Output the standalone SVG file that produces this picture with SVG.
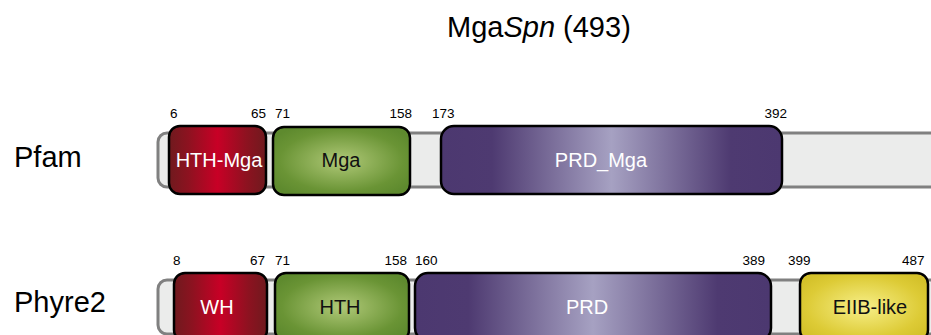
<svg xmlns="http://www.w3.org/2000/svg" width="931" height="335" viewBox="0 0 931 335">
  <defs>
    <linearGradient id="gRed" x1="0" y1="0" x2="1" y2="0">
      <stop offset="0" stop-color="#6f1a1e"/>
      <stop offset="0.2" stop-color="#8d1220"/>
      <stop offset="0.5" stop-color="#c80026"/>
      <stop offset="0.8" stop-color="#8d1220"/>
      <stop offset="1" stop-color="#6f1a1e"/>
    </linearGradient>
    <radialGradient id="gGreen" cx="0.5" cy="0.5" r="0.6">
      <stop offset="0" stop-color="#b0c978"/>
      <stop offset="0.75" stop-color="#6a9435"/>
      <stop offset="1" stop-color="#5e8a2e"/>
    </radialGradient>
    <linearGradient id="gPurple" x1="0" y1="0" x2="1" y2="0">
      <stop offset="0" stop-color="#4c3870"/>
      <stop offset="0.15" stop-color="#4e3a71"/>
      <stop offset="0.5" stop-color="#a6a1c2"/>
      <stop offset="0.85" stop-color="#4e3a71"/>
      <stop offset="1" stop-color="#4c3870"/>
    </linearGradient>
    <radialGradient id="gYellow" cx="0.5" cy="0.5" r="0.6">
      <stop offset="0" stop-color="#f7ef88"/>
      <stop offset="0.75" stop-color="#ddcb36"/>
      <stop offset="1" stop-color="#d4c12a"/>
    </radialGradient>
  </defs>
  <style>
    text { font-family: "Liberation Sans", Arial, sans-serif; }
    .backbone { fill: #ebeceb; stroke: #808080; stroke-width: 3; }
    .dom { stroke: #000; stroke-width: 2.5; }
    .num { font-size: 13.5px; fill: #000; }
    .lab { font-size: 20px; text-anchor: middle; }
    .light { fill: #ffffff; }
    .dark { fill: #111111; }
    .row { font-size: 29px; fill: #000; }
  </style>

  <!-- protein name -->
  <text x="447" y="37" font-size="29" fill="#000">Mga<tspan font-style="italic">Spn</tspan> (493)</text>

  <!-- row names -->
  <text class="row" x="14" y="167">Pfam</text>
  <text class="row" x="14" y="312">Phyre2</text>

  <!-- backbones -->
  <g id="backbones">
    <rect class="backbone" x="158" y="133" width="800" height="54" rx="9"/>
    <rect class="backbone" x="158" y="280" width="800" height="54" rx="9"/>
  </g>

  <!-- Pfam domains -->
  <g id="pfam-hth-mga">
    <rect class="dom" x="169" y="126" width="97" height="68" rx="11" fill="url(#gRed)"/>
    <text class="lab light" x="219" y="167">HTH-Mga</text>
    <text class="num" x="170" y="118">6</text>
    <text class="num" x="266" y="118" text-anchor="end">65</text>
  </g>
  <g id="pfam-mga">
    <rect class="dom" x="273" y="127" width="137" height="68" rx="11" fill="url(#gGreen)"/>
    <text class="lab dark" x="341" y="167">Mga</text>
    <text class="num" x="275" y="118">71</text>
    <text class="num" x="412" y="118" text-anchor="end">158</text>
  </g>
  <g id="pfam-prd-mga">
    <rect class="dom" x="441" y="126" width="341" height="68" rx="13" fill="url(#gPurple)"/>
    <text class="lab light" x="601" y="167">PRD_Mga</text>
    <text class="num" x="432" y="118">173</text>
    <text class="num" x="787" y="118" text-anchor="end">392</text>
  </g>

  <!-- Phyre2 domains -->
  <g id="phyre-wh">
    <rect class="dom" x="174" y="273" width="93" height="68" rx="11" fill="url(#gRed)"/>
    <text class="lab light" x="217" y="314">WH</text>
    <text class="num" x="173" y="265">8</text>
    <text class="num" x="265" y="265" text-anchor="end">67</text>
  </g>
  <g id="phyre-hth">
    <rect class="dom" x="275" y="273" width="134" height="68" rx="11" fill="url(#gGreen)"/>
    <text class="lab dark" x="340" y="314">HTH</text>
    <text class="num" x="275" y="265">71</text>
    <text class="num" x="407" y="265" text-anchor="end">158</text>
  </g>
  <g id="phyre-prd">
    <rect class="dom" x="415" y="273" width="356" height="68" rx="13" fill="url(#gPurple)"/>
    <text class="lab light" x="587" y="314">PRD</text>
    <text class="num" x="415" y="265">160</text>
    <text class="num" x="765" y="265" text-anchor="end">389</text>
  </g>
  <g id="phyre-eiib">
    <rect class="dom" x="800" y="273" width="128" height="68" rx="11" fill="url(#gYellow)"/>
    <text class="lab dark" x="870" y="314">EIIB-like</text>
    <text class="num" x="788" y="265">399</text>
    <text class="num" x="902" y="265">487</text>
  </g>
</svg>
